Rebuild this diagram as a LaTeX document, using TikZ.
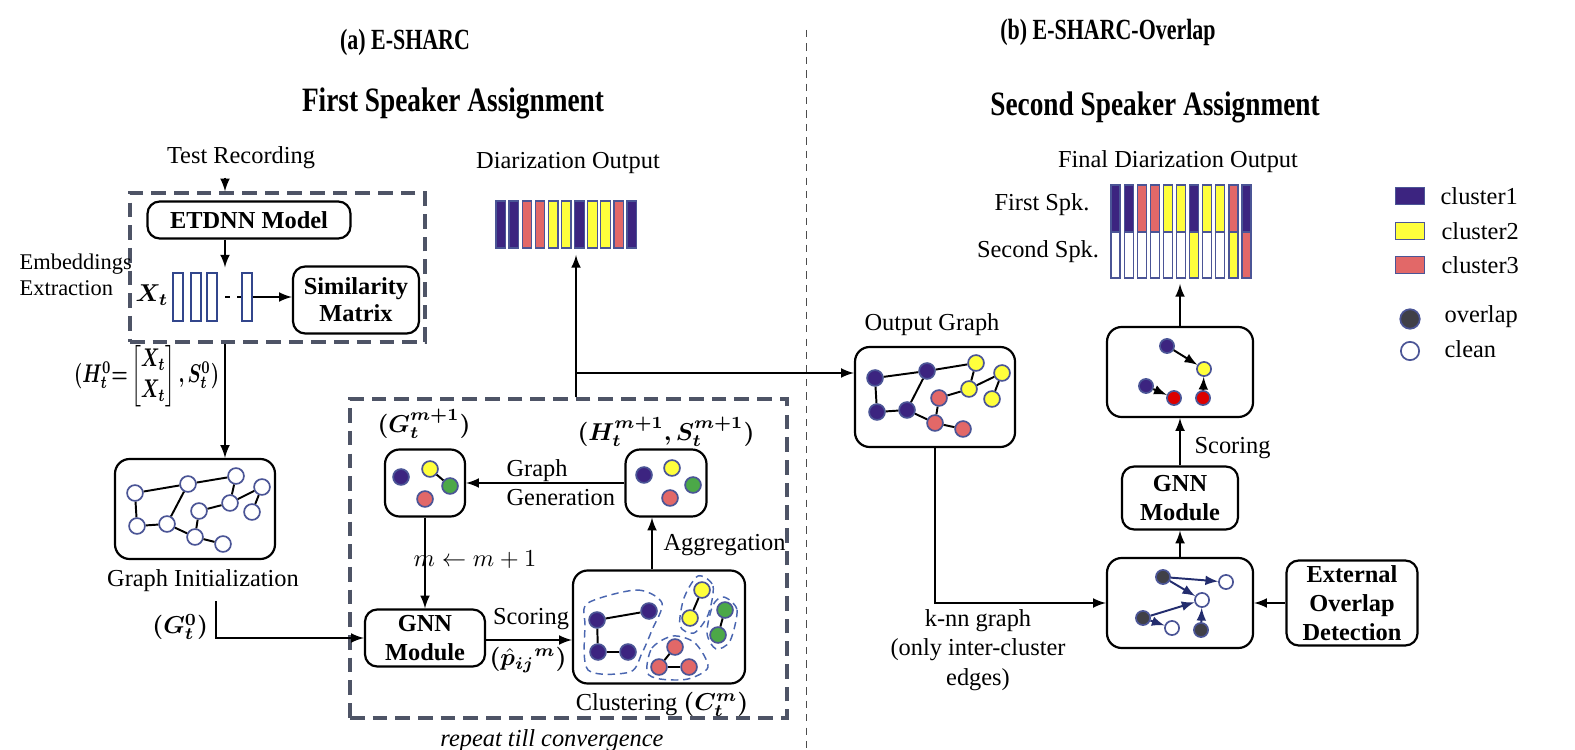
\documentclass[tikz,border=0pt]{standalone}
\usepackage{amsmath}
\usepackage{bm}
\usepackage{fontspec}
\setmainfont{Liberation Serif}
\usepackage{graphicx}
\definecolor{pur}{RGB}{60,36,128}
\definecolor{yel}{RGB}{255,255,60}
\definecolor{sal}{RGB}{226,104,104}
\definecolor{grn}{RGB}{76,168,72}
\definecolor{bred}{RGB}{220,0,0}
\definecolor{dkg}{RGB}{64,64,72}
\definecolor{ring}{RGB}{75,85,150}
\definecolor{slate}{RGB}{78,84,102}
\definecolor{embblue}{RGB}{50,70,140}
\definecolor{navyline}{RGB}{35,45,110}
\definecolor{blobblue}{RGB}{74,102,176}
\newcommand{\headA}[1]{\scalebox{0.75}[1]{\fontsize{12}{14}\selectfont\bfseries #1}}
\newcommand{\headB}[1]{\scalebox{0.8}[1]{\fontsize{14}{16}\selectfont\bfseries #1}}
\begin{document}
\begin{tikzpicture}[x=0.41pt, y=-0.41pt, font=\fontsize{10}{12}\selectfont,
  sz/.style 2 args={minimum width=#1*0.41pt, minimum height=#2*0.41pt},
  blk/.style={draw, line width=0.9pt, rounded corners=5pt, inner sep=0pt, align=center, font=\fontsize{10}{12}\selectfont\bfseries},
  gbox/.style={draw, line width=0.9pt, rounded corners=6pt, inner sep=0pt},
  dbox/.style={draw=slate, line width=1.3pt, dash pattern=on 6pt off 3.3pt, inner sep=0pt},
  emb/.style={draw=embblue, line width=0.7pt, fill=white, inner sep=0pt, minimum width=4pt, minimum height=19.5pt},
  vtx/.style={circle, draw=ring, line width=0.7pt, minimum size=6.5pt, inner sep=0pt},
  vs/.style={vtx, minimum size=5.8pt},
  blob/.style={draw=blobblue, line width=0.6pt, dash pattern=on 3pt off 2pt},
  divider/.style={draw=black!70, line width=0.4pt, dash pattern=on 3pt off 2.5pt},
  bar/.style={draw=ring, line width=0.5pt}]
\useasboundingbox (0,0) rectangle (1575,750);
% Titles
\node (titA) at (405,42) {\headA{(a) E-SHARC}};
\node (titB) at (1108,32) {\headA{(b) E-SHARC-Overlap}};
\node (subA) at (453,103) {\headB{First Speaker Assignment}};
\node (subB) at (1155,107) {\headB{Second Speaker Assignment}};
\draw[divider] (806,30) -- (806,750);
%
% Embeddings Extraction
\node (rec) at (241,158) {Test Recording};
\node[dbox, sz={295}{149}] (embbox) at (277.5,267.5) {};
\node[blk, sz={203}{37}] (etdnn) at (249,220) {ETDNN Model};
\node[blk, sz={126}{67}, font=\fontsize{10}{11}\selectfont\bfseries] (simmat) at (356,300) {Similarity\\Matrix};
\node[align=left, anchor=west, font=\fontsize{9.2}{10.5}\selectfont] (embtxt) at (11,275) {Embeddings\\Extraction};
\node (xt) at (152,295) {$\bm{X_t}$};
\node[emb] (e1) at (178,297) {};
\node[emb] (e2) at (196,297) {};
\node[emb] (e3) at (212,297) {};
\node[emb] (e4) at (247,297) {};
\coordinate (ax) at (225,0);
\draw[ thick, -latex] (rec.south -| ax) -- (embbox.north -| ax);
\draw[ thick, -latex, shorten >=2pt] (etdnn.south -| ax) -- (e1.north -| ax);
\draw[ line width=0.6pt, dash pattern=on 2pt off 3pt, dash phase=2pt] (e3.east) -- (e4.west);
\draw[ thick, -latex] (e4.east) -- (e4.east -| simmat.west);
\node[anchor=east, inner sep=1pt] (hlab) at (222,376) {\scalebox{0.76}[1.05]{$\bm{(H_t^0{=}}\begin{bmatrix}\bm{X_t}\\ \bm{X_t}\end{bmatrix}\bm{,S_t^0)}$}};
%
% Graph Initialization
\node[gbox, sz={160}{100}] (ginit) at (195,509) {};
\draw[ thick, -latex] (embbox.south -| ax) -- (ginit.north -| ax);
\foreach \n/\x/\y in {1/135/493, 2/188/484, 3/236/476, 4/262/487, 5/230/503, 6/199/511,
                      7/252/512, 8/137/526, 9/167/524, 10/195/537, 11/223/544}
   \node[vtx, fill=white] (g\n) at (\x,\y) {};
\node[inner sep=1pt] (gilab) at (203,581) {Graph Initialization};
\node[anchor=east, inner sep=1pt] (g0lab) at (211,627) {$\bm{(G_t^0)}$};
\coordinate (g0top) at (216,601);
%
% Refinement loop
\node[dbox, sz={437}{319}] (loop) at (568.5,558.5) {};
\node[gbox, sz={80}{67}] (gm) at (425,483) {};
\node[gbox, sz={81}{67}] (hm) at (666,483) {};
\node[blk, sz={120}{57}] (gnnA) at (425,638) {GNN\\Module};
\node[gbox, sz={172}{113}] (clus) at (659,627) {};
\node (gmlab) at (424,424) {$\bm{(G_t^{m+1})}$};
\node (hmlab) at (666,432) {$\bm{(H_t^{m+1},S_t^{m+1})}$};
   \node[vtx, fill=pur] (gm1) at (401,477) {};
   \node[vtx, fill=yel] (gm2) at (430,469) {};
   \node[vtx, fill=grn] (gm3) at (450,486) {};
   \node[vtx, fill=sal] (gm4) at (425,499) {};
   \node[vtx, fill=pur] (hm1) at (644,475) {};
   \node[vtx, fill=yel] (hm2) at (672,468) {};
   \node[vtx, fill=grn] (hm3) at (693,485) {};
   \node[vtx, fill=sal] (hm4) at (670,498) {};
   \draw[ thick] (gm2) -- (gm3);
   % clusters
   \draw[blob] plot[smooth cycle] coordinates {(588,603) (637,590) (662,603) (652,630) (642,653) (630,672) (588,670) (585,625)};
   \draw[blob] plot[smooth cycle] coordinates {(698,576) (713,586) (708,615) (694,633) (680,626) (684,598)};
   \draw[blob] plot[smooth cycle] coordinates {(724,597) (737,610) (730,641) (716,649) (707,633) (713,605)};
   \draw[blob] plot[smooth cycle] coordinates {(647,672) (652,648) (673,636) (695,643) (708,667) (688,679) (660,679)};
\foreach \n/\c/\x/\y in {1/pur/597/620, 2/pur/649/611, 3/pur/598/652, 4/pur/628/652, 5/yel/702/590, 6/yel/690/618,
                         7/grn/725/610, 8/grn/718/635, 9/sal/675/647, 10/sal/659/667, 11/sal/689/667}
   \node[vtx, fill=\c] (c\n) at (\x,\y) {};
\foreach \a/\b in {1/2, 1/3, 3/4, 5/6, 7/8, 9/10, 10/11}
   \draw[ thick] (c\a) -- (c\b);
\node[inner sep=1pt] (cllab) at (662,704) {Clustering $\bm{(C_t^m)}$};
\node[inner sep=1pt] (replab) at (552,741) {\textit{repeat till convergence}};
% loop edges
\draw[ thick, -latex] (hm.west) -- (gm.east);
\node[align=left, anchor=west] (gglab) at (498,483) {Graph\\Generation};
\draw[ thick, -latex] (gm.south) -- (gm.south |- gnnA.north);
\node[anchor=west] (mlab) at (405,560) {$m \leftarrow m+1$};
\draw[ thick, -latex] (g0top) |- (gnnA.west);
\coordinate (scy) at (0,640);
\draw[ thick, -latex] (gnnA.east |- scy) -- (clus.west |- scy);
\node[inner sep=1pt] (sclabA) at (531,619) {Scoring};
\node[inner sep=1pt] (plab) at (528,660) {$\bm{(\hat{p}_{ij}{}^{m})}$};
\coordinate (agx) at (652,0);
\draw[ thick, -latex] (clus.north -| agx) -- (hm.south -| agx);
\node[anchor=west] (aglab) at (655,545) {Aggregation};
%
% Diarization Output
\node (dolab) at (568,163) {Diarization Output};
\foreach \c [count=\i from 0] in {pur,pur,sal,sal,yel,yel,pur,yel,yel,sal,pur}
   \draw[bar, fill=\c] (496+\i*13.1,201) rectangle ++(9.5,47);
\coordinate (bars1) at (576,255);
\coordinate (jn) at (576,373);
\draw[ thick] (loop.north -| jn) -- (jn);
\draw[ thick, -latex] (jn) -- (bars1);
%
% Output Graph
\node (oglab) at (932,325) {Output Graph};
\node[gbox, sz={160}{100}] (outg) at (935,397) {};
\draw[ thick, -latex] (jn) -- (jn -| outg.west);
\foreach \n/\c/\x/\y in {1/pur/875/378, 2/pur/927/371, 3/yel/976/363, 4/yel/1002/373, 5/yel/969/389, 6/sal/939/398,
                         7/yel/992/399, 8/pur/877/412, 9/pur/907/410, 10/sal/935/423, 11/sal/963/429}
   \node[vtx, fill=\c] (o\n) at (\x,\y) {};
\foreach \a/\b in {1/2, 1/8, 8/9, 9/2, 9/10, 10/6, 6/5, 5/3, 3/2, 5/4, 4/7, 10/11} {
   \draw[ thick] (g\a) -- (g\b);
   \draw[ thick] (o\a) -- (o\b);
}
%
% Second speaker
\node[gbox, sz={146}{90}] (ovl) at (1180,603) {};
\node[blk, sz={131}{85}] (ext) at (1352,603) {External\\Overlap\\Detection};
\node[blk, sz={116}{63}] (gnnB) at (1180,498) {GNN\\Module};
\node[gbox, sz={146}{90}] (scb) at (1180,372) {};
\draw[ thick, -latex] (outg.south) |- (ovl.west);
\node[align=center] (knn) at (978,650) {k-nn graph\\(only inter-cluster\\edges)};
\draw[ thick, -latex] (ext.west) -- (ovl.east);
\draw[ thick, -latex] (ovl.north) -- (gnnB.south);
\draw[ thick, -latex] (gnnB.north) -- (scb.south);
\node[anchor=west] (sclabB) at (1186,448) {Scoring};
   \node[vs, fill=dkg] (v1) at (1163,577) {};
   \node[vs, fill=white] (v2) at (1226,582) {};
   \node[vs, fill=white] (v3) at (1202,600) {};
   \node[vs, fill=dkg] (v4) at (1143,618) {};
   \node[vs, fill=white] (v5) at (1172,628) {};
   \node[vs, fill=dkg] (v6) at (1201,630) {};
   \foreach \a/\b in {1/2, 1/3, 4/3, 4/5, 6/3}
      \draw[ thick, navyline, -latex] (v\a) -- (v\b);
   \node[vs, fill=pur] (s1) at (1167,346) {};
   \node[vs, fill=yel] (s2) at (1204,369) {};
   \node[vs, fill=pur] (s3) at (1146,386) {};
   \node[vs, fill=bred] (s4) at (1174,398) {};
   \node[vs, fill=bred] (s5) at (1203,398) {};
   \draw[ thick, -latex] (s1) -- (s2);
   \draw[ thick, -latex] (s3) -- (s4);
   \draw[ thick, -latex] (s5) -- (s2);
%
% Final Diarization Output
\node (fdlab) at (1178,162) {Final Diarization Output};
\node (spk1) at (1042,205) {First Spk.};
\node (spk2) at (1038,252) {Second Spk.};
\foreach \c/\d [count=\i from 0] in {pur/white, pur/white, sal/white, sal/white, yel/white, yel/white,
                                      pur/yel, yel/white, yel/white, sal/yel, pur/sal} {
   \draw[bar, fill=\c] (1111+\i*13.1,185) rectangle ++(9,47);
   \draw[bar, fill=\d] (1111+\i*13.1,232) rectangle ++(9,46);
}
\coordinate (bars2) at (1180,284);
\draw[ thick, -latex] (scb.north) -- (bars2);
%
% Legend
\node[bar, fill=pur, sz={29}{15}] (leg1) at (1410,196) {};
\node[bar, fill=yel, sz={29}{15}] (leg2) at (1410,231) {};
\node[bar, fill=sal, sz={29}{15}] (leg3) at (1410,265) {};
\node[vtx, fill=dkg, minimum size=8pt] (leg4) at (1410,319) {};
\node[vtx, fill=white, minimum size=7.5pt] (leg5) at (1410,351) {};
\node[anchor=west] (legt1) at (1432,196) {cluster1};
\node[anchor=west] (legt2) at (1433,231) {cluster2};
\node[anchor=west] (legt3) at (1433,265) {cluster3};
\node[anchor=west] (legt4) at (1436,317) {overlap};
\node[anchor=west] (legt5) at (1436,349) {clean};
\end{tikzpicture}
\end{document}
